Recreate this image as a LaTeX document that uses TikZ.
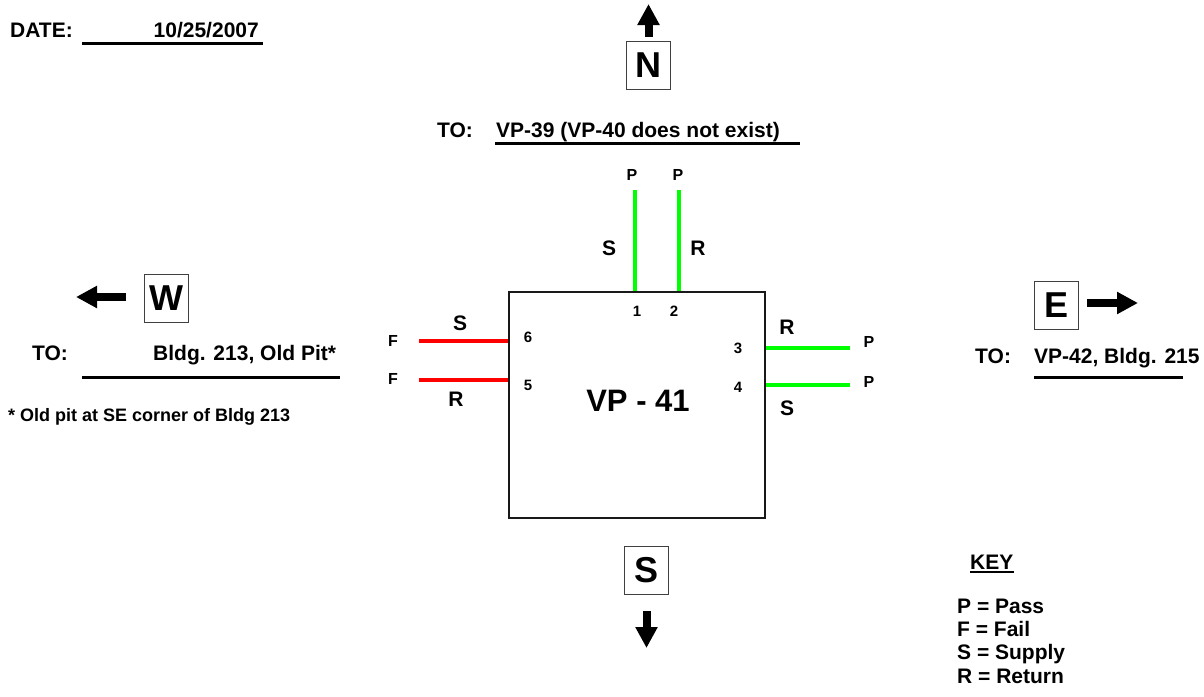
\documentclass[tikz,border=0pt]{standalone}
\usepackage{fontspec}
\setmainfont{Liberation Sans}
\usetikzlibrary{arrows.meta}
\begin{document}
\begin{tikzpicture}[x=1pt,y=-1pt,
  txt/.style={font=\fontsize{21}{24}\selectfont\bfseries, inner sep=0pt},
  mid/.style={font=\fontsize{21}{24}\selectfont\bfseries, inner sep=0pt},
  sml/.style={font=\fontsize{16}{19}\selectfont\bfseries, inner sep=0pt},
  num/.style={font=\fontsize{15}{17}\selectfont\bfseries, inner sep=0pt},
  compass/.style={draw=black!75, line width=1pt, minimum width=44pt, minimum height=48pt, inner sep=0pt, font=\fontsize{36}{40}\selectfont\bfseries},
  uline/.style={line width=3pt},
  blockarrow/.style={line width=8pt, -{Triangle[length=21pt 0 0,width=21pt 0 0]}, shorten >=-1pt},
  pass/.style={line width=4pt, color={rgb,255:red,0;green,255;blue,0}},
  fail/.style={line width=4pt, color={rgb,255:red,255;green,0;blue,0}}
]
\useasboundingbox (0,0) rectangle (1204,696);

% Date
\node[txt, anchor=base west] (datelbl) at (10,37) {DATE:};
\coordinate (dateL) at (82,43);
\coordinate (dateR) at (263,43);
\draw[uline] (dateL) -- (dateR);
\node[txt, anchor=base east] (dateval) at (259,37) {10/25/2007};

% North
\node[compass] (Nbox) at (648.5,65) {N};
\coordinate (Ntail) at (648.5,37);
\coordinate (Ntip) at (648.5,5);
\draw[blockarrow] (Ntail) -- (Ntip);
\node[txt, anchor=base west] (toN) at (437,137) {TO:};
\coordinate (toNL) at (495,143);
\coordinate (toNR) at (800,143);
\draw[uline] (toNL) -- (toNR);
\node[txt, anchor=base west] (toNval) at (496,137) {VP-39 (VP-40 does not exist)};

% Main box
\node[draw=black!90, line width=2pt, minimum width=256pt, minimum height=226pt, inner sep=0pt] (vp) at (637,405) {};
\node[font=\fontsize{31}{36}\selectfont\bfseries, inner sep=0pt] (vplbl) at (638,401) {VP - 41};

% Top pins
\coordinate (p1top) at (634.5,190);
\coordinate (p2top) at (678.5,190);
\draw[pass] (p1top) -- (p1top |- vp.north);
\draw[pass] (p2top) -- (p2top |- vp.north);
\node[sml] (pP1) at (632,175) {P};
\node[sml] (pP2) at (678,175) {P};
\node[mid] (pS1) at (609,248) {S};
\node[mid] (pR2) at (698,248) {R};
\node[num] (n1) at (637,311) {1};
\node[num] (n2) at (674,311) {2};

% Left pins
\coordinate (p6end) at (419,341);
\coordinate (p5end) at (419,380);
\draw[fail] (p6end) -- (p6end -| vp.west);
\draw[fail] (p5end) -- (p5end -| vp.west);
\node[sml] (pF6) at (393,341) {F};
\node[sml] (pF5) at (393,379) {F};
\node[mid] (pS6) at (460,323) {S};
\node[mid] (pR5) at (456,399) {R};
\node[num] (n6) at (528,337) {6};
\node[num] (n5) at (528,385) {5};

% Right pins
\coordinate (p3end) at (850,348);
\coordinate (p4end) at (850,385);
\draw[pass] (p3end -| vp.east) -- (p3end);
\draw[pass] (p4end -| vp.east) -- (p4end);
\node[sml] (pP3) at (869,342) {P};
\node[sml] (pP4) at (869,382) {P};
\node[mid] (pR3) at (787,327) {R};
\node[mid] (pS4) at (787,408) {S};
\node[num] (n3) at (738,348) {3};
\node[num] (n4) at (738,387) {4};

% West
\node[compass] (Wbox) at (166.5,298.5) {W};
\coordinate (Wtail) at (126,297);
\coordinate (Wtip) at (77,297);
\draw[blockarrow] (Wtail) -- (Wtip);
\node[txt, anchor=base west] (toW) at (32,360) {TO:};
\coordinate (toWL) at (82,377);
\coordinate (toWR) at (340,377);
\draw[uline] (toWL) -- (toWR);
\node[txt, anchor=base west] (toWval) at (153,360) {Bldg. 213, Old Pit*};
\node[font=\fontsize{18}{21}\selectfont\bfseries, inner sep=0pt, anchor=base west] (foot) at (8,421) {* Old pit at SE corner of Bldg 213};

% East
\node[compass] (Ebox) at (1056,305.5) {E};
\coordinate (Etail) at (1087,303);
\coordinate (Etip) at (1137,303);
\draw[blockarrow] (Etail) -- (Etip);
\node[txt, anchor=base west] (toE) at (975,363) {TO:};
\coordinate (toEL) at (1034,377);
\coordinate (toER) at (1183,377);
\draw[uline] (toEL) -- (toER);
\node[txt, anchor=base west] (toEval) at (1034,363) {VP-42, Bldg. 215};

% South
\node[compass] (Sbox) at (646.5,570) {S};
\coordinate (Stail) at (646.5,611);
\coordinate (Stip) at (646.5,647);
\draw[blockarrow] (Stail) -- (Stip);

% Key
\node[txt, anchor=base west] (key) at (970,569) {KEY};
\draw[line width=2.5pt] (key.base west) ++(0,3) coordinate (keyL) -- (key.base east |- keyL) coordinate (keyR);
\node[txt, anchor=base west] (k1) at (957,613) {P = Pass};
\node[txt, anchor=base west] (k2) at (957,636) {F = Fail};
\node[txt, anchor=base west] (k3) at (957,659) {S = Supply};
\node[txt, anchor=base west] (k4) at (957,683) {R = Return};
\end{tikzpicture}
\end{document}
